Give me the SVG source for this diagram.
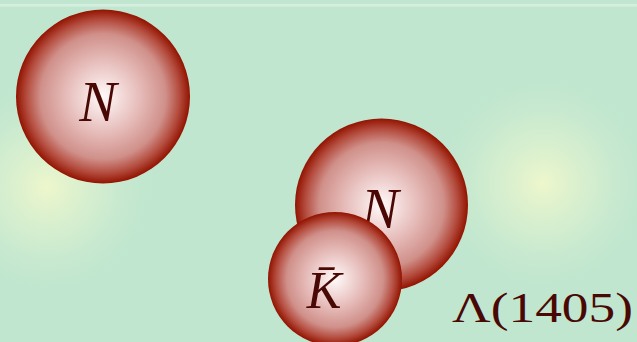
<svg xmlns="http://www.w3.org/2000/svg" width="637" height="342" viewBox="0 0 637 342">
<defs>
<radialGradient id="ball" cx="0.5" cy="0.5" r="0.5">
<stop offset="0" stop-color="#fffafa"/>
<stop offset="0.45" stop-color="#e4b8b5"/>
<stop offset="0.72" stop-color="#d0908a"/>
<stop offset="0.88" stop-color="#b44c3e"/>
<stop offset="1" stop-color="#921300"/>
</radialGradient>
<radialGradient id="glow" cx="0.5" cy="0.5" r="0.5">
<stop offset="0" stop-color="#eef7cc"/>
<stop offset="0.5" stop-color="#daf0cf" stop-opacity="0.6"/>
<stop offset="1" stop-color="#c0e6cf" stop-opacity="0"/>
</radialGradient>
<style>
.lbl{font-family:"Liberation Serif","Times New Roman",serif;font-style:italic;fill:#4a0805;text-anchor:middle}
.ball{fill:url(#ball)}
.big{font-family:"Liberation Serif","Times New Roman",serif;fill:#4a0805}
</style>
</defs>
<rect width="637" height="342" fill="#c0e6cf"/>
<rect x="0" y="4" width="637" height="2.5" fill="#d6eedf"/>
<circle cx="47" cy="187" r="115" fill="url(#glow)"/>
<circle cx="543" cy="183" r="115" fill="url(#glow)"/>
<g id="N1">
<circle class="ball" cx="103" cy="96.5" r="87"/>
<text class="lbl" x="98" y="121" font-size="56">N</text>
</g>
<g id="N2">
<circle class="ball" cx="381.5" cy="205" r="86.5"/>
<text class="lbl" x="380" y="228" font-size="56">N</text>
</g>
<g id="Kbar">
<circle class="ball" cx="335" cy="279" r="67"/>
<text class="lbl" x="324" y="308" font-size="52">K̄</text>
</g>
<g id="connectors"/>
<text class="big" x="452" y="322" font-size="42" textLength="181" lengthAdjust="spacingAndGlyphs">Λ(1405)</text>
</svg>
